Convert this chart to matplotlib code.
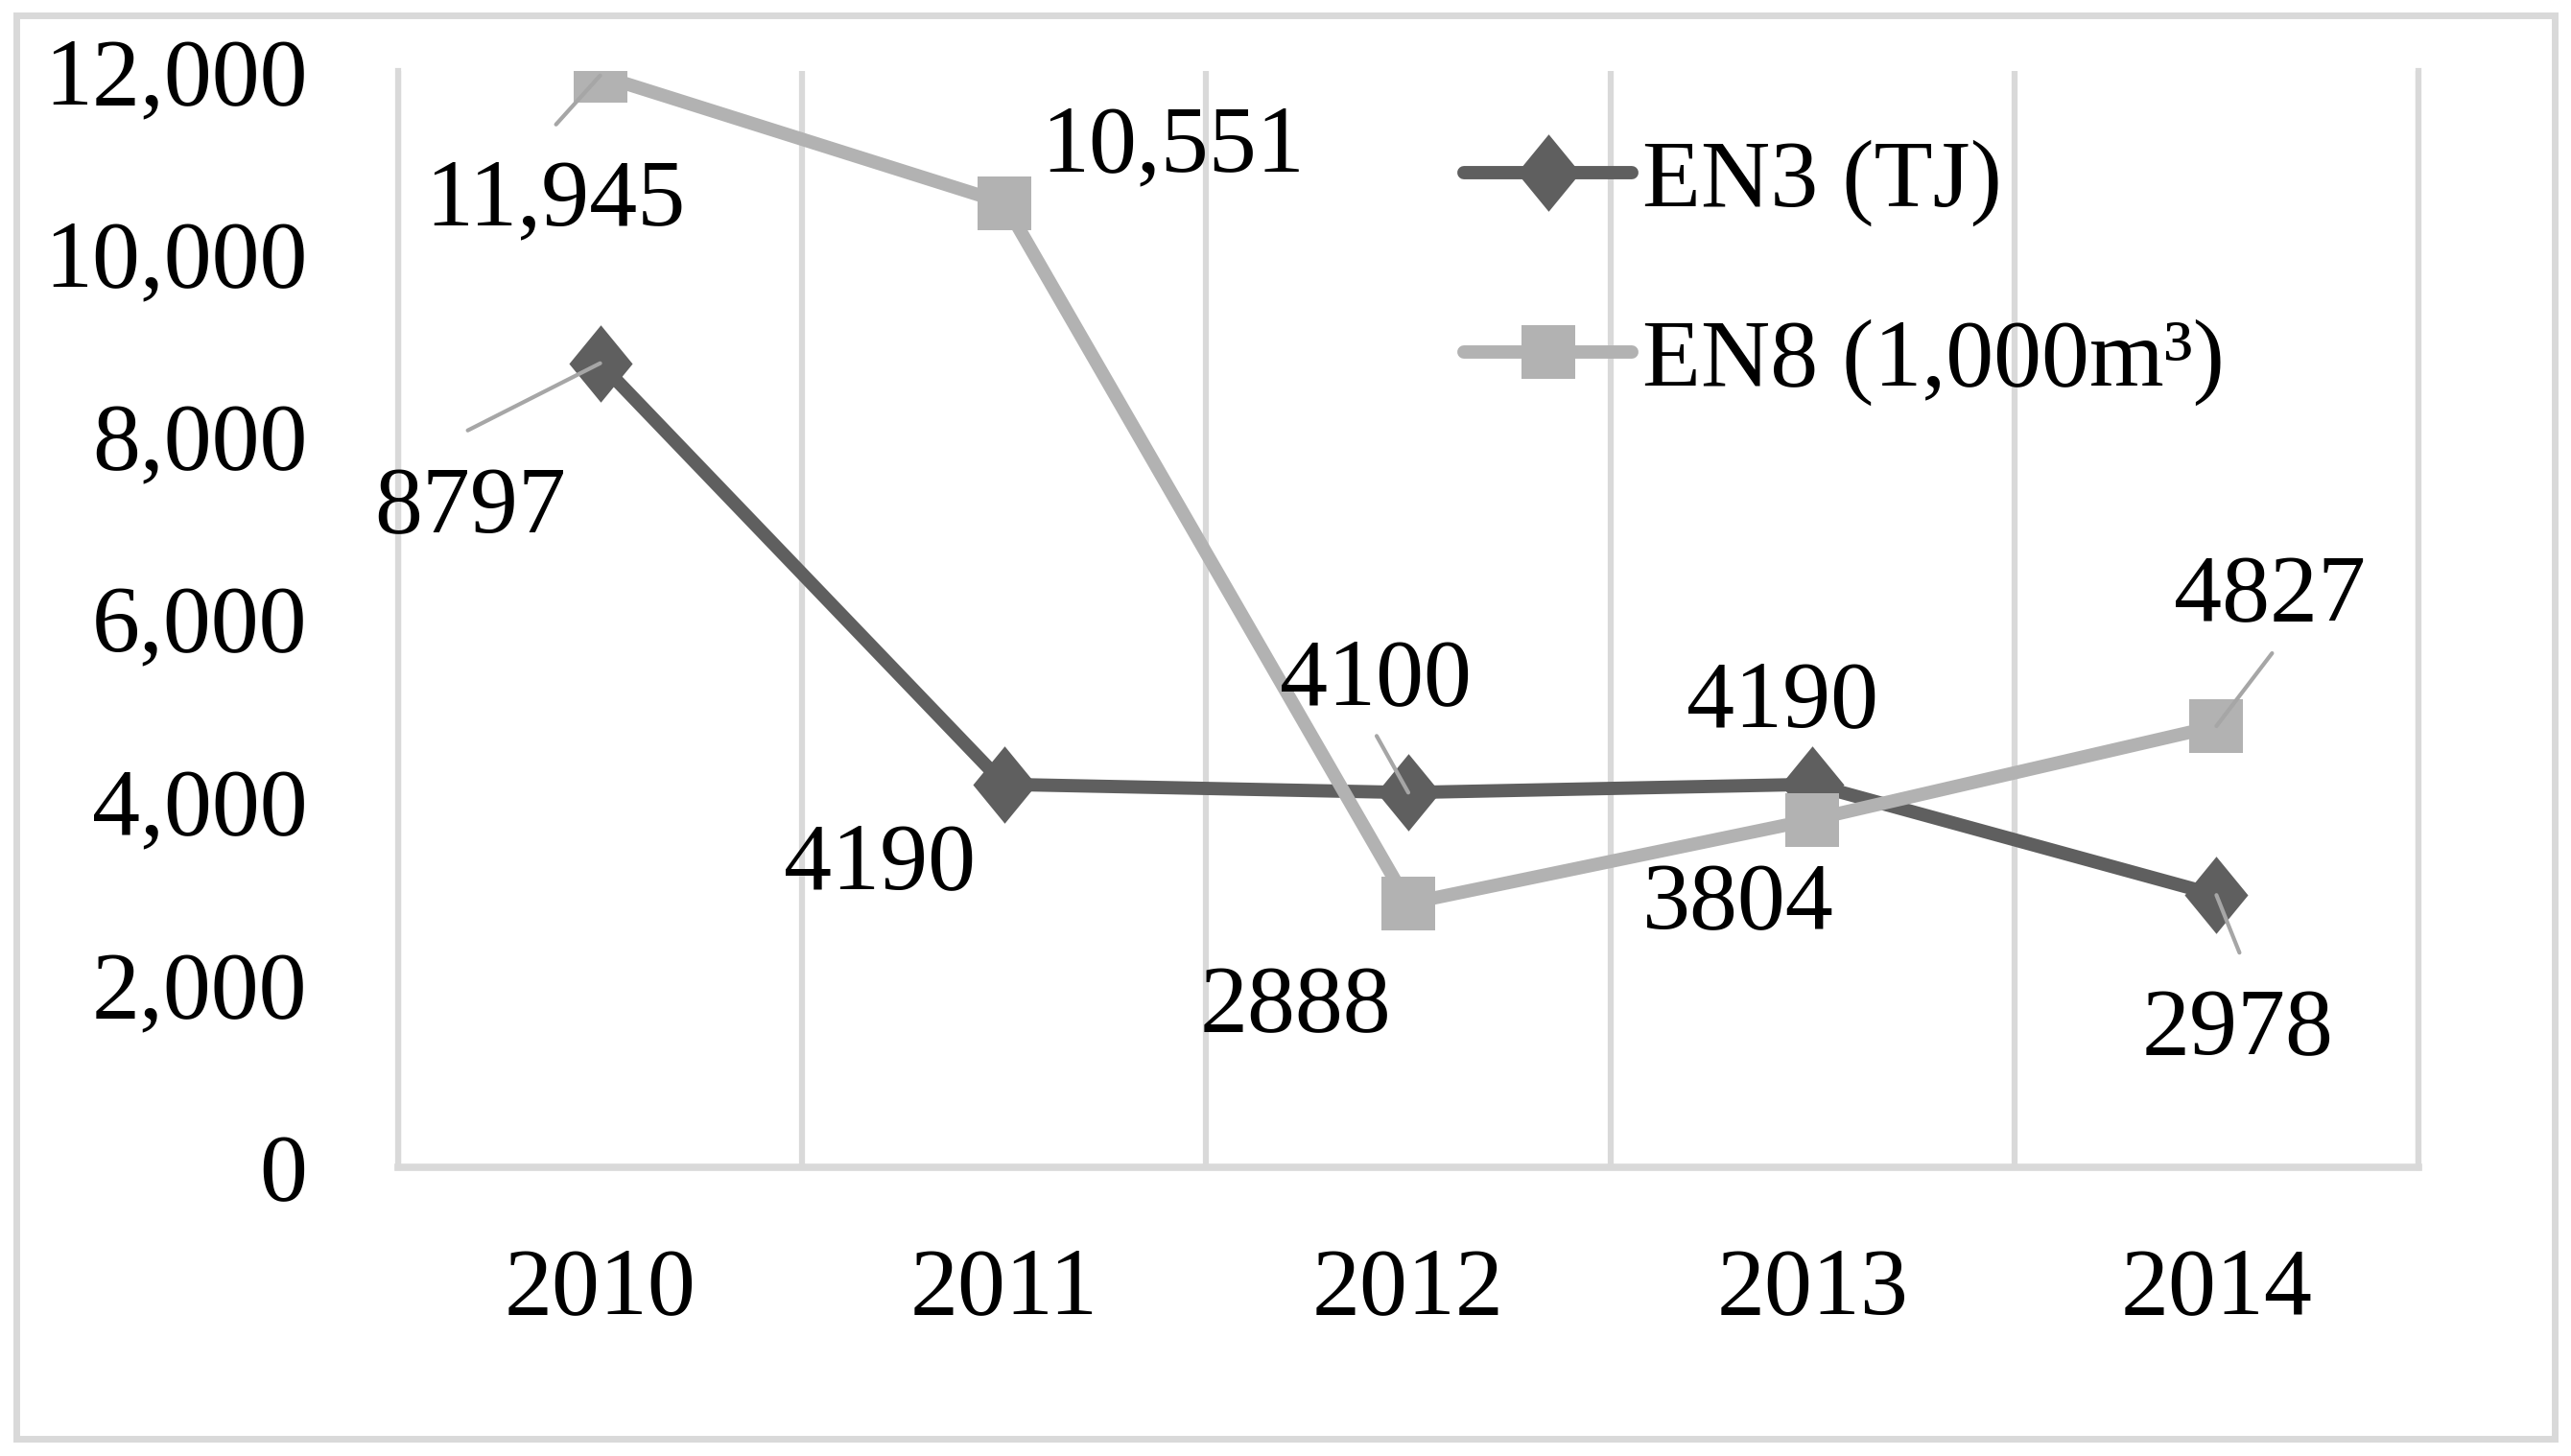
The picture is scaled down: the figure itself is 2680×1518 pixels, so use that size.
import matplotlib
matplotlib.use("Agg")
import matplotlib.pyplot as plt
from matplotlib.patches import Rectangle
from matplotlib.ticker import FuncFormatter, MultipleLocator


# =====================================================
# DATA
# =====================================================
years = ["2010", "2011", "2012", "2013", "2014"]
en3_values = [8797, 4190, 4100, 4190, 2978]
en8_values = [11945, 10551, 2888, 3804, 4827]
series_names = ["EN3 (TJ)", "EN8 (1,000m\u00b3)"]

# label placement (pixel offsets from the point: text centre, leader start)
en3_text_off = [(-135, -142), (-130, -74), (-34, 126), (-31, 95), (22, -132)]
en3_leader = [(-138, -70), None, (-33, 59), None, (24, -60)]
en8_text_off = [(-47, -122), (176, 67), (-118, -99), (-77, -80), (56, 144)]
en8_leader = [(-46, -51), None, None, None, (58, 76)]


# =====================================================
# STYLE
# =====================================================
W, H, DPI = 2680, 1518, 100
FONT = "Liberation Serif"
FS = 72
DARK = "#5f5f5f"
LIGHT = "#b2b2b2"
GRID = "#d9d9d9"
LEADER = "#a6a6a6"

# slightly narrow diamond, like the office chart marker
DIAMOND = [(0, 1), (0.82, 0), (0, -1), (-0.82, 0), (0, 1)]

plt.rcParams["font.family"] = [FONT, "DejaVu Serif"]

fig = plt.figure(figsize=(W / DPI, H / DPI), dpi=DPI)
ax = fig.add_axes([415 / W, 1 - 1217 / H, (2521 - 415) / W, (1217 - 73.5) / H])

x = list(range(len(years)))

ax.plot(x, en3_values, color=DARK, lw=10, marker=DIAMOND, ms=58,
        mew=0, label=series_names[0], zorder=3, solid_capstyle="round")
ax.plot(x, en8_values, color=LIGHT, lw=10, marker="s", ms=41,
        mew=0, label=series_names[1], zorder=4, solid_capstyle="round")

ax.set_xlim(-0.5, len(years) - 0.5)
ax.set_ylim(0, 12000)

# vertical separators between categories
ax.xaxis.set_minor_locator(MultipleLocator(1, offset=0.5))
ax.grid(which="minor", axis="x", color=GRID, lw=4.5)
ax.grid(which="major", visible=False)
ax.set_axisbelow(True)

for side in ["left", "right"]:
    ax.spines[side].set_color(GRID)
    ax.spines[side].set_linewidth(4.5)
ax.spines["top"].set_visible(False)
ax.spines["bottom"].set_color(GRID)
ax.spines["bottom"].set_linewidth(5.5)

ax.set_xticks(x)
ax.set_xticklabels(years)
ax.yaxis.set_major_locator(MultipleLocator(2000))
ax.yaxis.set_major_formatter(FuncFormatter(lambda v, p: f"{int(v):,}"))
ax.tick_params(axis="x", which="both", length=0, pad=60, labelsize=FS)
ax.tick_params(axis="y", length=0, pad=68, labelsize=FS)


# =====================================================
# DATA LABELS
# =====================================================
def fmt(v):
    return f"{v:,}" if v >= 10000 else str(v)


def add_labels(values, text_off, leaders):
    for i, v in enumerate(values):
        dx, dy = text_off[i]
        ax.annotate(fmt(v), xy=(x[i], v), xytext=(dx, dy - 34),
                    textcoords="offset pixels", ha="center", va="baseline",
                    fontsize=FS, color="black", zorder=6)
        if leaders[i] is not None:
            ax.annotate("", xy=(x[i], v), xytext=leaders[i],
                        textcoords="offset pixels", zorder=5,
                        arrowprops=dict(arrowstyle="-", color=LEADER, lw=3,
                                        shrinkA=0, shrinkB=0))


add_labels(en3_values, en3_text_off, en3_leader)
add_labels(en8_values, en8_text_off, en8_leader)


# =====================================================
# LEGEND
# =====================================================
ax.legend(loc="upper left", bbox_to_anchor=(1526 / W, 1 - 145 / H),
          bbox_transform=fig.transFigure, frameon=False, fontsize=FS,
          handlelength=1.75, handletextpad=0.11, labelspacing=0.96,
          borderpad=0, borderaxespad=0, markerscale=1.0)

# outer frame
fig.patches.append(Rectangle((17 / W, 1 - 1500 / H), 2646 / W, 1484 / H,
                             transform=fig.transFigure, fill=False,
                             edgecolor=GRID, lw=5))

fig.savefig("out.png", dpi=DPI)
